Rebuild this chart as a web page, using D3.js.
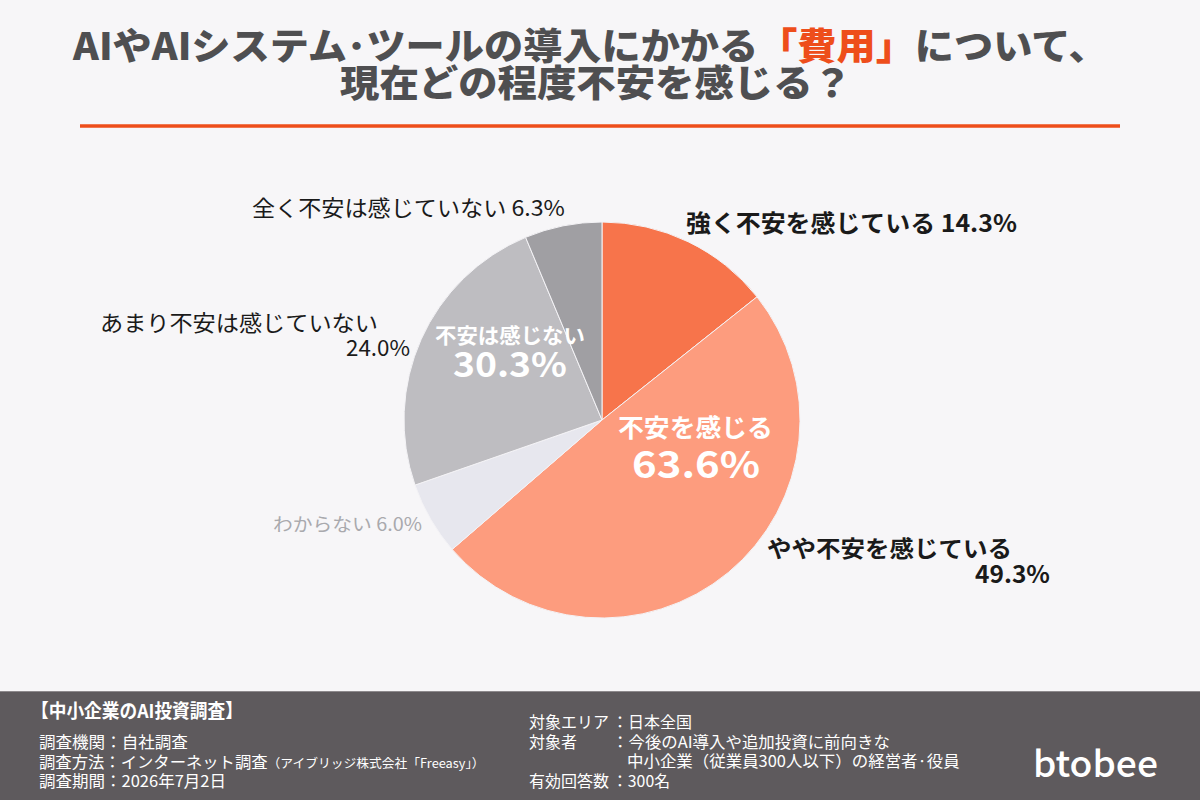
<!DOCTYPE html>
<html>
<head>
<meta charset="utf-8">
<script src="https://cdn.jsdelivr.net/npm/d3@7"></script>
<style>
  html, body { margin: 0; padding: 0; background: #f7f6f8; }
  svg { display: block; }
  text { font-family: "Noto Sans CJK JP", "Noto Sans", sans-serif; }
</style>
</head>
<body>
<div class="chart"></div>
<script>
// answers, clockwise from 12 o'clock
let categories = ['強く不安を感じている', 'やや不安を感じている', 'わからない', 'あまり不安は感じていない', '全く不安は感じていない']
let values = [14.3, 49.3, 6.0, 24.0, 6.3]
let sliceColors = ['#f7744b', '#fd9c7e', '#e7e7ee', '#bebdc1', '#a09fa3']

// grouped totals shown inside the pie
let groupNames = ['不安を感じる', '不安は感じない']
let groupValues = [63.6, 30.3]

let titleLines = ['AIやAIシステム･ツールの導入にかかる', '「費用」', 'について、', '現在どの程度不安を感じる？']

let width = 1200,
    height = 800,
    cx = 602,
    cy = 420,
    radius = 198

let svg = d3.select('.chart').append('svg')
    .attr('width', width)
    .attr('height', height)

svg.append('rect').attr('width', width).attr('height', height).attr('fill', '#f7f6f8')

// stretch/squeeze a text so it covers [left, left + w]
function fit(t, left, w) {
    let bb = t.node().getBBox()
    let s = w / bb.width
    t.attr('transform', 'translate(' + left + ',0) scale(' + s + ',1) translate(' + (-bb.x) + ',0)')
    return t
}

function label(str, left, base, size, weight, fill, w) {
    let t = svg.append('text')
        .attr('x', 0).attr('y', base)
        .attr('font-size', size)
        .attr('font-weight', weight)
        .attr('fill', fill)
        .text(str)
    if (w) fit(t, left, w)
    else t.attr('x', left)
    return t
}

// title
let t1 = svg.append('text').attr('y', 60).attr('font-size', 37).attr('font-weight', 900).attr('fill', '#4f4f51')
t1.append('tspan').text(titleLines[0])
t1.append('tspan').attr('fill', '#ee4e1b').text(titleLines[1])
t1.append('tspan').text(titleLines[2])
fit(t1, 72, 1036)
label(titleLines[3], 340, 97, 37, 900, '#4f4f51', 512)

svg.append('line')
    .attr('x1', 80).attr('x2', 1120)
    .attr('y1', 126).attr('y2', 126)
    .attr('stroke', '#ee4e1b')
    .attr('stroke-width', 3.5)

// pie
let pie = d3.pie().sort(null).value(function(d) { return d })
let arc = d3.arc().innerRadius(0).outerRadius(radius)

let g = svg.append('g').attr('transform', 'translate(' + cx + ',' + cy + ')')
g.selectAll('path')
    .data(pie(values))
    .join('path')
    .attr('d', arc)
    .attr('fill', function(d, i) { return sliceColors[i] })
    .attr('stroke', '#f4f3f6')
    .attr('stroke-width', 1)

// outer labels
label(categories[0] + ' ' + values[0].toFixed(1) + '%', 686, 232, 24, 700, '#1a1a1a', 331)
label(categories[1], 767, 557, 23, 700, '#1a1a1a', 245)
label(values[1].toFixed(1) + '%', 975, 583, 24, 700, '#1a1a1a', 75)
label(categories[2] + ' ' + values[2].toFixed(1) + '%', 273, 531, 18, 400, '#a9a9ad', 149)
label(categories[3], 100, 331, 22, 400, '#1a1a1a', 278)
label(values[3].toFixed(1) + '%', 346, 356, 22, 400, '#1a1a1a', 64)
label(categories[4] + ' ' + values[4].toFixed(1) + '%', 252, 216, 22, 400, '#1a1a1a', 313)

// group labels inside
label(groupNames[0], 618, 437, 25, 700, '#ffffff', 155)
label(groupValues[0].toFixed(1) + '%', 632, 478, 37, 700, '#ffffff', 128)
label(groupNames[1], 435, 343, 21, 700, '#ffffff', 150)
label(groupValues[1].toFixed(1) + '%', 453, 377, 34, 700, '#ffffff', 114)

// footer
svg.append('rect').attr('x', 0).attr('y', 691).attr('width', width).attr('height', 109).attr('fill', '#5e5a5d')
svg.append('line').attr('x1', 0).attr('x2', width).attr('y1', 691.5).attr('y2', 691.5).attr('stroke', '#8d898c')

label('【中小企業のAI投資調査】', 31, 718, 19, 700, '#ffffff', 212)
label('調査機関：自社調査', 39, 748, 16, 400, '#ffffff', 149)
let m = svg.append('text').attr('y', 768).attr('font-size', 16).attr('fill', '#ffffff')
m.append('tspan').text('調査方法：インターネット調査')
m.append('tspan').attr('font-size', 12.5).text('（アイブリッジ株式会社「Freeasy」）')
fit(m, 39, 446)
label('調査期間：2026年7月2日', 39, 787, 16, 400, '#ffffff', 187)

label('対象エリア', 529, 728, 16, 400, '#ffffff', 80)
label('：日本全国', 612, 728, 16, 400, '#ffffff', 80)
label('対象者', 529, 748, 16, 400, '#ffffff', 48)
label('：今後のAI導入や追加投資に前向きな', 612, 748, 16, 400, '#ffffff', 278)
label('中小企業（従業員300人以下）の経営者·役員', 627, 767, 16, 400, '#ffffff', 333)
label('有効回答数', 529, 787, 16, 400, '#ffffff', 80)
label('：300名', 612, 787, 16, 400, '#ffffff', 58)

let logo = svg.append('text')
    .attr('x', 0).attr('y', 777)
    .attr('font-family', '"Open Sans", Lato, sans-serif')
    .attr('font-size', 37)
    .attr('font-weight', 500)
    .attr('fill', '#ffffff')
    .text('btobee')
fit(logo, 1033, 125)
</script>
</body>
</html>
